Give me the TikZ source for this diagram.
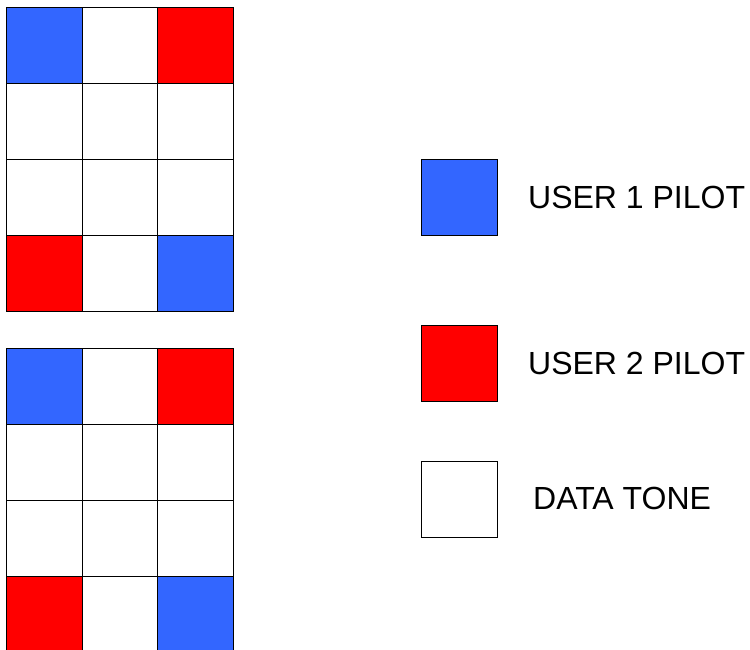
\documentclass[tikz,border=0pt]{standalone}
\usepackage{fontspec}
\setmainfont{Liberation Sans}
\usepackage{xcolor}
\usepackage{tikz}
\usetikzlibrary{positioning}
\definecolor{userone}{RGB}{51,102,255}
\definecolor{usertwo}{RGB}{255,0,0}
\tikzset{
  tone/.style={draw=black,line width=1pt,minimum width=75.5pt,minimum height=76pt,
    inner sep=0pt,outer sep=0pt,fill=white},
  pilotone/.style={tone,fill=userone},
  pilottwo/.style={tone,fill=usertwo},
  datatone/.style={tone},
  legendtext/.style={anchor=west,inner sep=0pt,font=\fontsize{32}{38}\selectfont}
}

\begin{document}
\begin{tikzpicture}[x=1pt,y=-1pt]
  \useasboundingbox (0,0) rectangle (750,649);
  \begin{scope}
    \clip (0,0) rectangle (750,649);
    % two slots, pilots on the corners
    \foreach \slot/\top in {a/7,b/348}{
      \foreach \r in {0,1,2,3}{
        \foreach \c in {0,1,2}{
          \node[datatone] (\slot-\r-\c) at ({44.5+75.5*\c},{\top+38+76*\r}) {};
        }
      }
      \node[pilotone] (\slot-0-0) at (44.5,{\top+38}) {};
      \node[pilottwo] (\slot-0-2) at (195.5,{\top+38}) {};
      \node[pilottwo] (\slot-3-0) at (44.5,{\top+38+228}) {};
      \node[pilotone] (\slot-3-2) at (195.5,{\top+38+228}) {};
    }
  \end{scope}
  % legend
  \node[pilotone] (keyone) at (459.5,197) {};
  \node[pilottwo] (keytwo) at (459.5,363) {};
  \node[datatone] (keydata) at (459.5,499) {};
  \node[legendtext] (labone) at (528,197) {USER 1 PILOT};
  \node[legendtext] (labtwo) at (528,363) {USER 2 PILOT};
  \node[legendtext] (labdata) at (533,498) {DATA TONE};
\end{tikzpicture}
\end{document}
